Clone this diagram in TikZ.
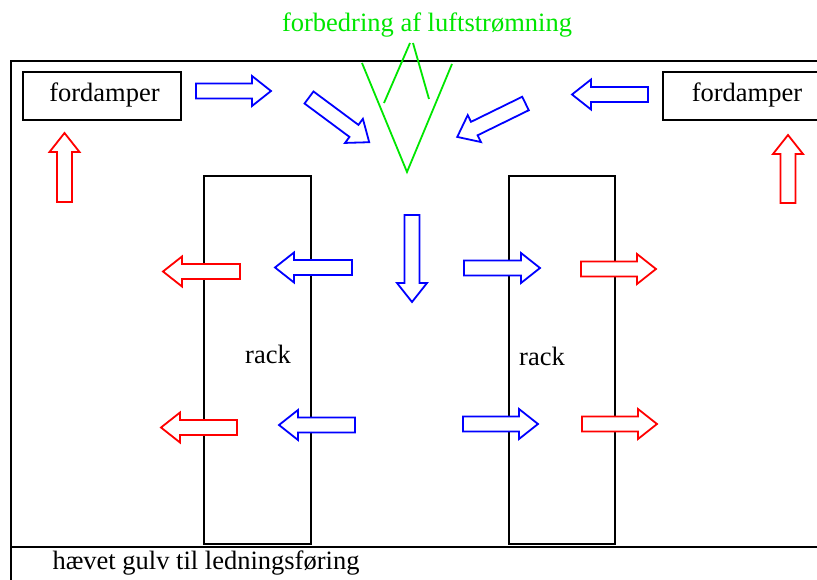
\documentclass[tikz,border=0pt]{standalone}
\usepackage{fontspec}
\setmainfont{Liberation Serif}
\definecolor{flowblue}{RGB}{0,0,255}
\definecolor{flowred}{RGB}{255,0,0}
\definecolor{flowgreen}{RGB}{0,230,0}
% outlined block arrow: style, tail x, tail y, direction angle, length
\newcommand{\blockarr}[5]{%
  \draw[#1, shift={(#2,#3)}, rotate=#4]
    (0,-7.5) -- ({#5-19},-7.5) -- ({#5-19},-15) -- (#5,0)
    -- ({#5-19},15) -- ({#5-19},7.5) -- (0,7.5) -- cycle;}
\begin{document}
\begin{tikzpicture}[x=1pt, y=-1pt,
  font=\fontsize{26.5}{30}\selectfont,
  frame/.style={line width=2pt, draw=black},
  unitbox/.style={frame, inner sep=0pt, anchor=north west},
  label/.style={inner sep=0pt},
  cold/.style={draw=flowblue, fill=white, line width=1.8pt, line join=miter},
  warm/.style={draw=flowred, fill=white, line width=1.8pt, line join=miter},
  vane/.style={draw=flowgreen, line width=1.8pt}]
  \useasboundingbox (0,0) rectangle (817,580);
  \clip (0,0) rectangle (817,580);

  % room outline and raised floor
  \draw[frame] (11,580) -- (11,61) -- (830,61);
  \draw[frame] (11,547) -- (830,547);

  % evaporators
  \node[unitbox, minimum width=158pt, minimum height=48pt] (evapL) at (22,71) {};
  \node[label] (evapLtext) at (104.5,95) {fordamper};
  \node[unitbox, minimum width=170pt, minimum height=48pt] (evapR) at (662,71) {};
  \node[label] (evapRtext) at (747,95) {fordamper};

  % racks
  \node[unitbox, minimum width=107pt, minimum height=368pt] (rackL) at (203,175) {};
  \node[unitbox, minimum width=106pt, minimum height=368pt] (rackR) at (508,175) {};
  \node[label] (rackLtext) at (268,354) {rack};
  \node[label] (rackRtext) at (542,356) {rack};

  % captions
  \node[label, text=flowgreen] (title) at (427,25) {forbedring af luftstrømning};
  \node[label] (floor) at (206,563) {hævet gulv til ledningsføring};

  % deflector
  \draw[vane] (362,63) -- (407,172) -- (452,64);
  \draw[vane] (384,103) -- (410,43);
  \draw[vane] (413,43) -- (429,99);

  % cold air from the evaporators
  \blockarr{cold}{196}{91}{0}{75}
  \blockarr{cold}{648}{94.5}{180}{76}
  \blockarr{cold}{309}{97.5}{-36.6}{75}
  \blockarr{cold}{525.5}{103.5}{206.1}{76}
  \blockarr{cold}{412}{215}{-90}{87}

  % warm air back to the evaporators
  \blockarr{warm}{64.5}{202}{90}{69}
  \blockarr{warm}{788}{203}{90}{68}

  % through the racks
  \blockarr{cold}{352}{267.5}{180}{77}
  \blockarr{cold}{464}{268}{0}{76}
  \blockarr{warm}{240}{271.5}{180}{77}
  \blockarr{warm}{581}{269}{0}{75}

  \blockarr{cold}{355}{425}{180}{76}
  \blockarr{cold}{463}{424}{0}{75}
  \blockarr{warm}{237}{427.5}{180}{76}
  \blockarr{warm}{582}{424}{0}{75}
\end{tikzpicture}
\end{document}
